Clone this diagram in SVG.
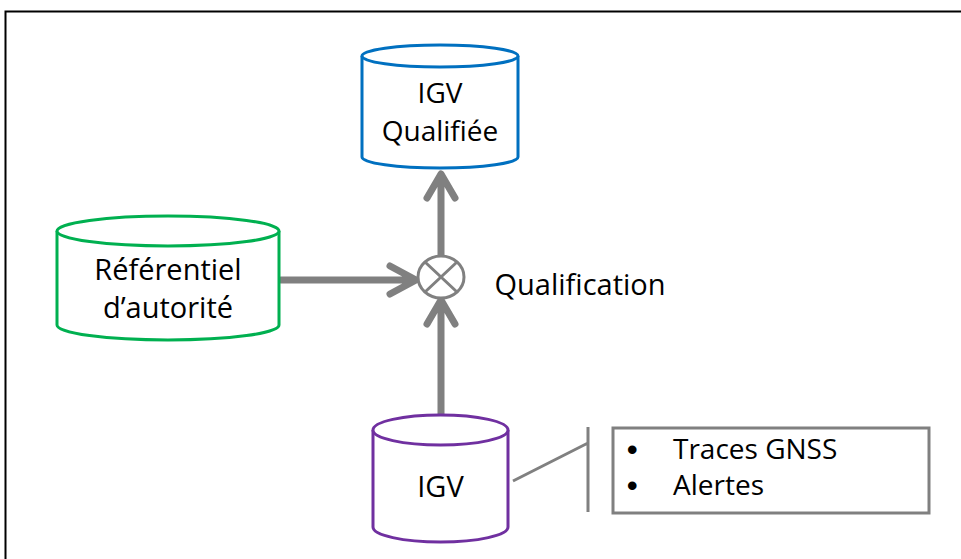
<svg xmlns="http://www.w3.org/2000/svg" width="961" height="559" viewBox="0 0 961 559">
<style>
.lbl{font-family:"Open Sans","Liberation Sans",sans-serif;font-size:29px;fill:#000;text-anchor:middle}
.lst{font-family:"Open Sans","Liberation Sans",sans-serif;font-size:28px;fill:#000}
.bul{font-family:"Liberation Sans",sans-serif;font-size:30px;fill:#000;font-weight:bold}
.cyl{fill:#fff;stroke-width:3}
.arr{fill:none;stroke:#808080;stroke-width:7;stroke-linecap:round;stroke-linejoin:round}
.thin{fill:none;stroke:#808080;stroke-width:3}
</style>
<rect width="961" height="559" fill="#fff"/>
<rect x="5.5" y="11.5" width="1000" height="600" fill="none" stroke="#000" stroke-width="2"/>
<g id="connectors">
<path class="arr" d="M441 255 V178 M427 198 L441 174 L455 198"/>
<path class="arr" d="M441 415 V304 M427 324 L441 300 L455 324"/>
<path class="arr" d="M281 280 H412 M390 266 L416 280 L390 294"/>
<path class="thin" d="M513 481 L588 443 M588 427 V512"/>
</g>
<g id="igv-qualifiee">
<path class="cyl" stroke="#0070C0" d="M362 56 V157 A78 11 0 0 0 518 157 V56"/>
<ellipse class="cyl" stroke="#0070C0" cx="440" cy="56" rx="78" ry="11"/>
<text class="lbl" x="440" y="103" style="font-size:28px">IGV</text>
<text class="lbl" x="440" y="141" style="font-size:28px">Qualifiée</text>
</g>
<g id="referentiel">
<path class="cyl" stroke="#00B050" d="M57 231 V325 A111 15 0 0 0 279 325 V231"/>
<ellipse class="cyl" stroke="#00B050" cx="168" cy="231" rx="111" ry="15"/>
<text class="lbl" x="168" y="280">Référentiel</text>
<text class="lbl" x="168" y="318">d’autorité</text>
</g>
<g id="qualification">
<ellipse cx="441" cy="277" rx="23" ry="21" fill="#fff" stroke="#808080" stroke-width="3"/>
<path class="thin" d="M425 262 L457 292 M457 262 L425 292"/>
<text class="lbl" x="580" y="295">Qualification</text>
</g>
<g id="igv">
<path class="cyl" stroke="#7030A0" d="M373 430 V527 A67.5 15 0 0 0 508 527 V430"/>
<ellipse class="cyl" stroke="#7030A0" cx="440.5" cy="430" rx="67.5" ry="15"/>
<text class="lbl" x="440.5" y="497">IGV</text>
</g>
<g id="attributs">
<rect x="613" y="428" width="316" height="85" fill="#fff" stroke="#808080" stroke-width="3"/>
<text class="bul" x="627" y="460">•</text>
<text class="lst" x="673" y="459">Traces GNSS</text>
<text class="bul" x="627" y="496">•</text>
<text class="lst" x="673" y="495">Alertes</text>
</g>
</svg>
